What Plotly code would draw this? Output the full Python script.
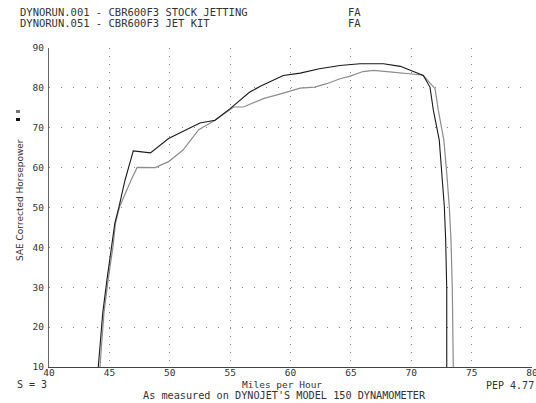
import plotly.graph_objects as go

# ---- data ----
run_a_mph = [44.08, 44.45, 44.8, 45.2, 45.45, 45.8, 46.3, 46.98, 48.4, 49.9, 51.4, 52.5,
             53.75, 55.0, 56.6, 57.5, 59.4, 60.8, 62.4, 64.1, 65.75, 67.7, 69.1, 70.2,
             71.0, 71.55, 71.83, 72.32, 72.52, 72.74, 72.85, 72.94, 72.94]
run_a_hp = [10, 23.5, 31.9, 40.2, 46.0, 50.2, 56.9, 64.2, 63.7, 67.3, 69.5, 71.2,
            71.9, 74.8, 78.9, 80.4, 83.1, 83.7, 84.8, 85.6, 86.05, 86.05, 85.4, 84.0,
            83.1, 80.2, 74.4, 66.9, 58.55, 50.2, 41.9, 29.4, 10]

run_b_mph = [44.22, 44.55, 44.9, 45.3, 45.5, 45.85, 46.8, 47.3, 48.8, 49.9, 51.1, 52.4,
             53.75, 55.3, 56.1, 57.75, 59.4, 60.8, 62.0, 63.0, 64.1, 64.9, 66.0, 66.9,
             68.2, 69.6, 70.7, 71.0, 71.97, 72.24, 72.7, 72.94, 73.15, 73.29, 73.4, 73.48]
run_b_hp = [10, 23.5, 31.9, 40.2, 46.0, 50.2, 56.9, 60.05, 60.0, 61.5, 64.4, 69.5,
            71.9, 75.2, 75.2, 77.3, 78.7, 79.95, 80.2, 81.05, 82.3, 82.9, 84.1, 84.4,
            84.0, 83.7, 83.3, 83.1, 79.8, 74.4, 66.9, 58.55, 50.2, 41.9, 29.4, 10]

x_ticks = [40, 45, 50, 55, 60, 65, 70, 75, 80]
y_ticks = [10, 20, 30, 40, 50, 60, 70, 80, 90]

header_lines = ["DYNORUN.001 - CBR600F3 STOCK JETTING", "DYNORUN.051 - CBR600F3 JET KIT"]
header_tag = "FA"
x_title = "Miles per Hour"
y_title = "SAE Corrected Horsepower"
footer = "As measured on DYNOJET'S MODEL 150 DYNAMOMETER"
left_note = "S = 3"
right_note = "PEP 4.77"

W, H = 536, 403
ML, MR, MT, MB = 49, 4, 48, 36
PW, PH = W - ML - MR, H - MT - MB

def px(x):
    return (x - ML) / PW

def py(y):
    return (H - MB - y) / PH

MONO = "DejaVu Sans Mono"
TXT = "#333333"

fig = go.Figure()
fig.add_trace(go.Scatter(x=run_b_mph, y=run_b_hp, mode="lines",
                         line=dict(color="#8c8c8c", width=1.2), showlegend=False))
fig.add_trace(go.Scatter(x=run_a_mph, y=run_a_hp, mode="lines",
                         line=dict(color="#1a1a1a", width=1.1), showlegend=False))

fig.update_layout(
    width=W, height=H,
    margin=dict(l=ML, r=MR, t=MT, b=MB, autoexpand=False),
    paper_bgcolor="white", plot_bgcolor="white",
    showlegend=False,
    xaxis=dict(range=[40, 80], tickvals=x_ticks, ticktext=[str(v) for v in x_ticks],
               showgrid=True, gridcolor="#888888", gridwidth=1, griddash="1px,7px",
               showline=True, linecolor="#444444", linewidth=1.2, zeroline=False,
               ticks="", tickfont=dict(family=MONO, size=9.5, color=TXT), ticklabelstandoff=-4,
               ticklabeloverflow="allow", automargin=False),
    yaxis=dict(range=[10, 90], tickvals=y_ticks, ticktext=[str(v) for v in y_ticks],
               showgrid=True, gridcolor="#888888", gridwidth=1, griddash="1px,11.075px",
               showline=True, linecolor="#666666", linewidth=1.2, zeroline=False,
               ticks="", tickfont=dict(family=MONO, size=9.5, color=TXT), ticklabelstandoff=2,
               ticklabeloverflow="allow", automargin=False),
)

ann = []
for i, t in enumerate(header_lines):
    ann.append(dict(text=t, x=px(18), y=py(12 + 11 * i), xref="paper", yref="paper",
                    xanchor="left", yanchor="middle", showarrow=False,
                    font=dict(family=MONO, size=10.5, color=TXT)))
    ann.append(dict(text=header_tag, x=px(346), y=py(12 + 11 * i), xref="paper", yref="paper",
                    xanchor="left", yanchor="middle", showarrow=False,
                    font=dict(family=MONO, size=10.5, color=TXT)))
ann.append(dict(text=left_note, x=px(15), y=py(384), xref="paper", yref="paper",
                xanchor="left", yanchor="middle", showarrow=False,
                font=dict(family=MONO, size=10, color=TXT)))
ann.append(dict(text=x_title, x=px(282), y=py(384), xref="paper", yref="paper",
                xanchor="center", yanchor="middle", showarrow=False,
                font=dict(family=MONO, size=9.5, color=TXT)))
ann.append(dict(text=right_note, x=px(536), y=py(385), xref="paper", yref="paper",
                xanchor="right", yanchor="middle", showarrow=False,
                font=dict(family=MONO, size=10, color=TXT)))
ann.append(dict(text=footer, x=px(284), y=py(395), xref="paper", yref="paper",
                xanchor="center", yanchor="middle", showarrow=False,
                font=dict(family=MONO, size=10.2, color=TXT)))
ann.append(dict(text=y_title, x=px(20), y=py(200), xref="paper", yref="paper",
                xanchor="center", yanchor="middle", showarrow=False, textangle=-90,
                font=dict(family="DejaVu Sans", size=9, color=TXT)))
fig.update_layout(annotations=ann)

# small legend keys (gray = run 001, black = run 051)
fig.add_shape(type="rect", xref="paper", yref="paper", x0=px(16), x1=px(20), y0=py(113), y1=py(110),
              fillcolor="#777777", line=dict(width=0))
fig.add_shape(type="rect", xref="paper", yref="paper", x0=px(16), x1=px(20), y0=py(121), y1=py(118),
              fillcolor="#111111", line=dict(width=0))

fig.write_html("out.html", config={"displayModeBar": False},
               post_script="document.body.style.margin='0';document.body.style.overflow='hidden';")
